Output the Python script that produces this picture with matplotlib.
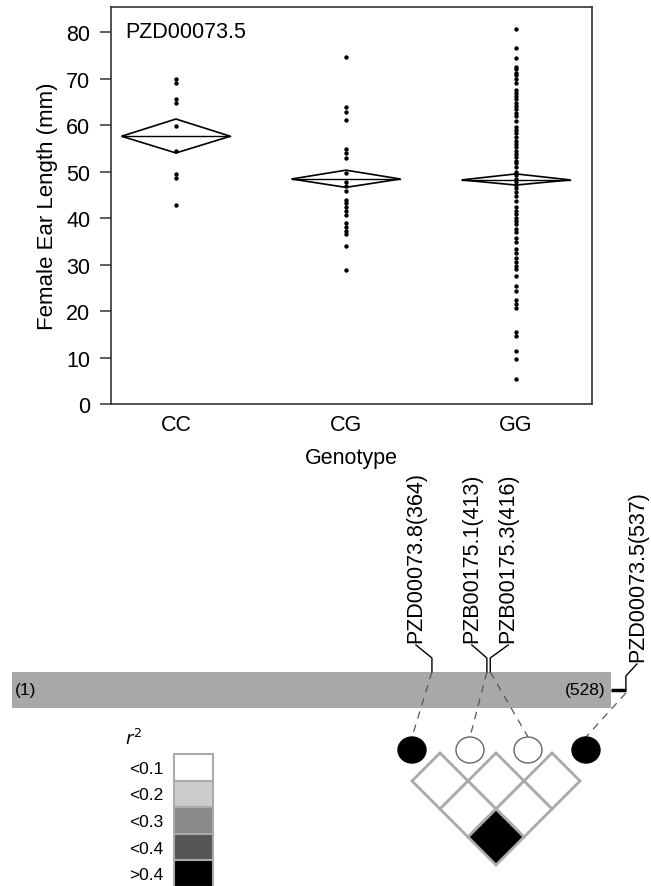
import matplotlib
matplotlib.use("Agg")
import matplotlib.pyplot as plt
from matplotlib.patches import Polygon, Rectangle, Ellipse

plt.rcParams['font.family'] = ['Liberation Sans', 'DejaVu Sans']

# ---------------- data ----------------
genotypes = ["CC", "CG", "GG"]
cc_values = [69.9, 69.0, 65.7, 64.7, 59.8, 54.5, 49.5, 48.7, 42.9]
cg_values = [74.6, 63.8, 62.8, 61.0, 54.8, 53.9, 52.9, 49.6, 47.7, 47.0, 45.8,
             43.9, 43.2, 42.4, 41.5, 40.7, 38.9, 38.1, 37.3, 36.6, 33.9, 28.8]
gg_values = [80.6, 76.5, 74.5, 72.6, 72.0, 71.3, 70.7, 69.9, 69.0, 67.5, 66.9,
             66.2, 65.6, 64.7, 64.2, 63.5, 62.7, 61.9, 60.9, 59.6, 58.9, 58.2,
             57.5, 56.6, 55.9, 55.2, 54.5, 53.8, 53.1, 52.3, 51.8, 50.9, 50.0,
             49.2, 48.5, 47.8, 47.1, 46.4, 45.7, 44.7, 43.7, 42.3, 41.6, 40.9,
             40.1, 39.4, 38.7, 37.6, 36.9, 35.8, 34.9, 33.3, 32.5, 31.5, 30.6,
             29.7, 29.0, 27.6, 25.3, 24.4, 22.4, 21.5, 20.6, 15.4, 14.6, 11.5,
             9.7, 5.4]
diamond_mean = [57.6, 48.4, 48.2]
diamond_upper = [61.3, 50.3, 49.5]
diamond_lower = [54.0, 46.6, 47.1]
y_ticks = [0, 10, 20, 30, 40, 50, 60, 70, 80]
panel_label = "PZD00073.5"

marker_names = ["PZD00073.8", "PZB00175.1", "PZB00175.3", "PZD00073.5"]
marker_pos = [364, 413, 416, 537]
gene_start, gene_end = 1, 528
marker_tagged = [True, False, False, True]
# pairwise r^2 (i, j, r2)
ld_pairs = [(0, 1, 0.05), (1, 2, 0.04), (2, 3, 0.03),
            (0, 2, 0.02), (1, 3, 0.06), (0, 3, 0.45)]
legend_labels = ["<0.1", "<0.2", "<0.3", "<0.4", ">0.4"]
legend_bins = [0.1, 0.2, 0.3, 0.4]
legend_colors = ["#ffffff", "#cccccc", "#898989", "#555555", "#000000"]

# ---------------- figure ----------------
W, H = 651, 887
fig = plt.figure(figsize=(W / 100, H / 100), dpi=100)

ax = fig.add_axes([111 / W, 1 - 405 / H, (592 - 111) / W, (405 - 8) / H])
groups = [cc_values, cg_values, gg_values]
for i, vals in enumerate(groups):
    ax.scatter([i] * len(vals), vals, s=10, color="black", zorder=3, linewidths=0)
hw = 0.32
for i in range(3):
    m, lo, up = diamond_mean[i], diamond_lower[i], diamond_upper[i]
    ax.add_patch(Polygon([(i - hw, m), (i, up), (i + hw, m), (i, lo)], closed=True,
                         fill=False, edgecolor="black", linewidth=1.2, zorder=2))
    ax.plot([i - hw, i + hw], [m, m], color="black", linewidth=1.0, zorder=2)

ax.set_xlim(-0.382, 2.447)
ax.set_ylim(0, 85.4)
ax.set_yticks(y_ticks)
ax.set_xticks(range(3))
ax.set_xticklabels(genotypes)
ax.tick_params(axis="x", length=0, pad=7, labelsize=15.5)
ax.tick_params(axis="y", length=8, width=1.1, color="#333333", pad=7, labelsize=15.5)
for sp in ax.spines.values():
    sp.set_color("#333333")
    sp.set_linewidth(1.2)
ax.set_ylabel("Female Ear Length (mm)", fontsize=16, labelpad=6)
ax.set_xlabel("Genotype", fontsize=15.5, labelpad=9)
ax.text(0.03, 0.965, panel_label, transform=ax.transAxes, fontsize=15.5,
        ha="left", va="top")

# ---------------- schematic (pixel canvas) ----------------
ox = fig.add_axes([0, 0, 1, 1], zorder=-1)
ox.set_xlim(0, W)
ox.set_ylim(H, 0)
ox.axis("off")

GX0, GK = 23.9, 1.121          # bp -> px scale


def bp2px(bp):
    return GX0 + GK * bp


bar_l, bar_r, bar_t, bar_b = 12, 611, 673, 709
ox.add_patch(Rectangle((bar_l, bar_t), bar_r - bar_l, bar_b - bar_t,
                       facecolor="#a8a8a8", edgecolor="none"))
ox.text(bar_l + 3, (bar_t + bar_b) / 2, f"({gene_start})", fontsize=12.5,
        ha="left", va="center")
ox.text(bar_r - 5, (bar_t + bar_b) / 2, f"({gene_end})", fontsize=12.5,
        ha="right", va="center")

label_dx = [-16, -15, 18, 12]
ld_x0, ld_step, ld_top, ld_half = 412, 56, 754, 28
circle_y = 751
for k, (name, pos) in enumerate(zip(marker_names, marker_pos)):
    mx = bp2px(pos)
    lx = mx + label_dx[k]
    if pos <= gene_end:
        ly = 643
        ox.plot([lx, mx, mx], [ly + 3, ly + 16, bar_t], color="black", lw=1.0)
        dash_start = (mx, bar_t)
    else:
        ly = 662
        mid = (bar_t + bar_b) / 2
        ox.plot([lx - 1, mx, mx], [ly + 3, ly + 15, mid], color="black", lw=1.0)
        ox.plot([bar_r, mx], [mid, mid], color="black", lw=2.5, solid_capstyle="butt")
        dash_start = (mx, mid + 3)
    ox.text(lx, ly, f"{name}({pos})", rotation=90, fontsize=15.5,
            ha="center", va="bottom")
    cx = ld_x0 + k * ld_step + k * 2
    ox.plot([dash_start[0], cx], [dash_start[1], circle_y - 13], color="#555555",
            lw=0.9, dashes=(6, 5))
    ox.add_patch(Ellipse((cx, circle_y), 28, 26,
                         facecolor="black" if marker_tagged[k] else "white",
                         edgecolor="black" if marker_tagged[k] else "#666666",
                         lw=1.0, zorder=3))


def r2_color(r2):
    for b, c in zip(legend_bins, legend_colors):
        if r2 < b:
            return c
    return legend_colors[-1]


for i, j, r2 in ld_pairs:
    cx = ld_x0 + (i + j) / 2 * ld_step
    cy = ld_top + (j - i) * ld_half
    ox.add_patch(Polygon([(cx, cy - ld_half), (cx + ld_half, cy),
                          (cx, cy + ld_half), (cx - ld_half, cy)], closed=True,
                         facecolor=r2_color(r2), edgecolor="#aaaaaa", lw=2.0,
                         zorder=2 if r2 < 0.4 else 2.5))

# legend
lg_l, lg_r, lg_t, lg_h = 174, 213, 755, 26.6
ox.text(134, 739, r"$r^2$", fontsize=13, ha="center", va="center")
for n, (lab, col) in enumerate(zip(legend_labels, legend_colors)):
    y0 = lg_t + n * lg_h
    ox.add_patch(Rectangle((lg_l, y0), lg_r - lg_l, lg_h, facecolor=col,
                           edgecolor="#aaaaaa", lw=1.5))
    ox.text(163, y0 + lg_h / 2 + 1, lab, fontsize=12.5, ha="right", va="center")

fig.savefig("out.png", dpi=100)
